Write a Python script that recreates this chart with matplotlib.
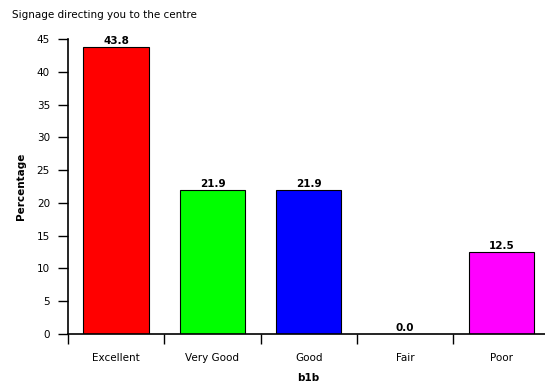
import numpy as np
import matplotlib
matplotlib.use('Agg')
import matplotlib.pyplot as plt

plt.rcParams['font.family'] = ['DejaVu Sans']

categories = ['Excellent', 'Very Good', 'Good', 'Fair', 'Poor']
values = [43.8, 21.9, 21.9, 0.0, 12.5]
colors = ['#ff0000', '#00ff00', '#0000ff', '#ffff00', '#ff00ff']
yticks = [0, 5, 10, 15, 20, 25, 30, 35, 40, 45]

fig = plt.figure(figsize=(5.45, 3.85), dpi=100)
ax = fig.add_axes([68/545, 1-334/385, 481.5/545, 295/385])

x = np.arange(len(categories))
ax.bar(x, values, width=0.68, color=colors, edgecolor='black', linewidth=0.8, zorder=2)
for xi, v in zip(x, values):
    ax.text(xi, v + 0.2, '%.1f' % v, ha='center', va='bottom', fontsize=7.5, fontweight='bold')

ax.set_xlim(-0.5, 4.5)
ax.set_ylim(0, 45)
ax.set_yticks(yticks)
ax.set_xticks(x)
ax.set_xticklabels(categories, fontsize=7.5)
ax.set_xticks(np.arange(-0.5, 5, 1), minor=True)
ax.tick_params(axis='x', which='major', length=0, pad=14)
ax.tick_params(axis='x', which='minor', length=7, width=1)
ax.tick_params(axis='y', labelsize=7.5, length=7, width=1, pad=6)

ax.spines['top'].set_visible(False)
ax.spines['right'].set_visible(False)
ax.spines['left'].set_linewidth(1.2)
ax.spines['bottom'].set_linewidth(1.2)

ax.set_xlabel('b1b', fontsize=7.5, fontweight='bold', labelpad=7)
ax.set_ylabel('Percentage', fontsize=7.5, fontweight='bold', labelpad=8)
fig.text(12/545, 1-15/385, 'Signage directing you to the centre', fontsize=7.5, ha='left', va='center')

plt.savefig('out.png', dpi=100)
